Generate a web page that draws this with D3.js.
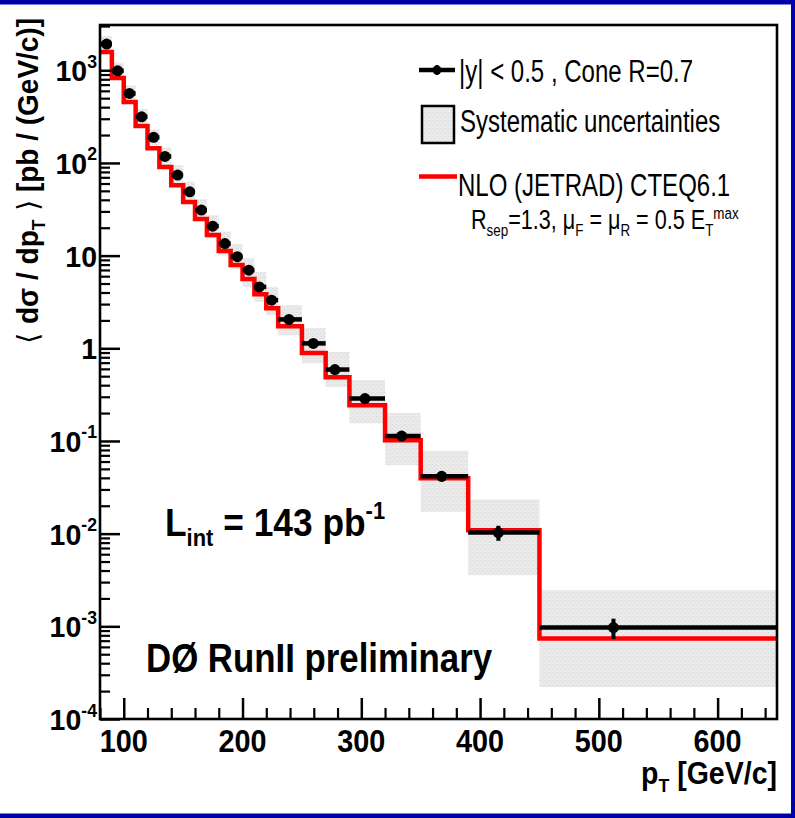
<!DOCTYPE html>
<html>
<head>
<meta charset="utf-8">
<script src="https://cdn.jsdelivr.net/npm/d3@7"></script>
<style>
  body { margin: 0; background: #fff; }
  svg { display: block; }
  text { font-family: "Liberation Sans", Arial, Helvetica, sans-serif; fill: #000; }
</style>
</head>
<body>
<svg id="chart" width="795" height="818"></svg>
<script>
// Inclusive jet cross section, |y| < 0.5, DØ Run II (143 pb^-1)
const binLo  = [80, 90, 100, 110, 120, 130, 140, 150, 160, 170, 180, 190, 200, 210, 220, 230, 250, 270, 290, 320, 350, 390, 450];
const binHi  = [90, 100, 110, 120, 130, 140, 150, 160, 170, 180, 190, 200, 210, 220, 230, 250, 270, 290, 320, 350, 390, 450, 650];
const ptMean = [85.6, 94.9, 104.7, 115.1, 125.2, 134.7, 145.4, 155.6, 165.4, 174.9, 185.2, 195.6, 205.3, 214.1, 224.5, 239.1, 259.6, 277.8, 303.1, 334.0, 367.7, 415.4, 512.3];
// cross section [pb/(GeV/c)]
const xsec   = [1918, 987, 563, 315, 189, 117.6, 73.9, 48.8, 31.0, 20.8, 13.5, 9.75, 6.97, 4.60, 3.31, 2.05, 1.13, 0.590, 0.287, 0.113, 0.0416, 0.01027, 0.000969];
const statErr = [5, 3, 2, 1.2, 0.8, 0.6, 0.45, 0.35, 0.25, 0.2, 0.15, 0.12, 0.1, 0.08, 0.07, 0.05, 0.035, 0.025, 0.015, 0.008, 0.005, 0.0019, 0.00024];
// systematic band edges
const sysLo  = [1571, 809, 461, 258, 155, 94.0, 56.2, 37.1, 23.6, 15.4, 10.0, 7.14, 4.60, 3.17, 2.28, 1.38, 0.690, 0.383, 0.155, 0.0547, 0.01714, 0.00356, 0.000221];
const sysHi  = [2339, 1205, 687, 384, 230, 147, 94.7, 62.5, 40.7, 27.3, 18.2, 13.3, 9.39, 6.68, 4.60, 2.92, 1.65, 0.914, 0.453, 0.201, 0.0785, 0.0233, 0.00245];
// NLO (JETRAD) CTEQ6.1 prediction per bin
const nlo    = [1571, 824, 454, 250, 144.5, 90.2, 57.6, 37.8, 24.8, 16.7, 11.2, 7.91, 5.58, 3.84, 2.71, 1.73, 0.892, 0.488, 0.243, 0.102, 0.0396, 0.01089, 0.000737];

const xTicks = [100, 200, 300, 400, 500, 600];
const xMinor = [80, 120, 140, 160, 180, 220, 240, 260, 280, 320, 340, 360, 380, 420, 440, 460, 480, 520, 540, 560, 580, 620, 640];
const yTickExp = [-4, -3, -2, -1, 0, 1, 2, 3];

const W = 795, H = 818;
const plot = { left: 100, right: 777, top: 25, bottom: 719 };

const svg = d3.select("#chart");

const x = d3.scaleLinear().domain([80, 650]).range([plot.left, plot.right]);
const y = d3.scaleLog().domain([1e-4, 3080]).range([plot.bottom, plot.top]);

// dithered light-grey fill for the systematic band
const defs = svg.append("defs");
const pat = defs.append("pattern").attr("id", "sysfill")
  .attr("width", 4).attr("height", 4).attr("patternUnits", "userSpaceOnUse");
pat.append("rect").attr("width", 4).attr("height", 4).attr("fill", "#e9e9e9");
pat.append("rect").attr("x", 0).attr("y", 0).attr("width", 1).attr("height", 1).attr("fill", "#d8d8d8");
pat.append("rect").attr("x", 2).attr("y", 2).attr("width", 1).attr("height", 1).attr("fill", "#dadada");
pat.append("rect").attr("x", 1).attr("y", 3).attr("width", 1).attr("height", 1).attr("fill", "#f4f4f4");

defs.append("clipPath").attr("id", "plotclip").append("rect")
  .attr("x", plot.left).attr("y", plot.top)
  .attr("width", plot.right - plot.left).attr("height", plot.bottom - plot.top);

// helper: text with optional squeeze along its own direction and sub/superscript parts
function richText(parent, px, py, parts, o) {
  const g = parent.append("g")
    .attr("transform", `translate(${px},${py})` + (o.rotate ? ` rotate(${o.rotate})` : "") + ` scale(${o.sx || 1},${o.sy || 1})`);
  const t = g.append("text")
    .attr("font-size", o.size)
    .attr("font-weight", o.weight || "normal")
    .attr("text-anchor", o.anchor || "start");
  parts.forEach(p => {
    const ts = t.append("tspan").text(p.t);
    if (p.sub) ts.attr("font-size", o.size * 0.62).attr("dy", o.size * 0.25);
    if (p.sup) ts.attr("font-size", o.size * 0.62).attr("dy", -o.size * 0.45);
    if (p.back) ts.attr("dy", p.back);
    if (p.font) ts.attr("font-family", p.font);
    if (p.weight) ts.attr("font-weight", p.weight);
  });
  return t;
}

const data = binLo.map((lo, i) => ({
  lo, hi: binHi[i], pt: ptMean[i], v: xsec[i], e: statErr[i],
  sLo: sysLo[i], sHi: sysHi[i], th: nlo[i]
}));

const body = svg.append("g").attr("clip-path", "url(#plotclip)");

// systematic uncertainty boxes
body.selectAll("rect.sys").data(data).join("rect").attr("class", "sys")
  .attr("x", d => x(d.lo)).attr("width", d => x(d.hi) - x(d.lo))
  .attr("y", d => y(d.sHi)).attr("height", d => y(d.sLo) - y(d.sHi))
  .attr("fill", "url(#sysfill)");

// NLO histogram
const stepPts = data.map(d => [d.lo, d.th]).concat([[binHi[binHi.length - 1], nlo[nlo.length - 1]]]);
body.append("path")
  .attr("d", d3.line().x(d => x(d[0])).y(d => y(d[1])).curve(d3.curveStepAfter)(stepPts))
  .attr("fill", "none").attr("stroke", "#ff0000").attr("stroke-width", 4.5);

// data: bin-width bars, stat error bars, markers
body.selectAll("line.xbar").data(data).join("line").attr("class", "xbar")
  .attr("x1", d => x(d.lo)).attr("x2", d => x(d.hi))
  .attr("y1", d => y(d.v)).attr("y2", d => y(d.v))
  .attr("stroke", "#000").attr("stroke-width", 4.5);
body.selectAll("line.ebar").data(data).join("line").attr("class", "ebar")
  .attr("x1", d => x(d.pt)).attr("x2", d => x(d.pt))
  .attr("y1", d => y(d.v + d.e)).attr("y2", d => y(Math.max(d.v - d.e, 1e-6)))
  .attr("stroke", "#000").attr("stroke-width", 4);
body.selectAll("circle.pt").data(data).join("circle").attr("class", "pt")
  .attr("cx", d => x(d.pt)).attr("cy", d => y(d.v)).attr("r", 5.5)
  .attr("fill", "#000");

// axes with inward ticks
const yMinor = [];
for (let k = -4; k < 4; k++) for (let m = 2; m <= 9; m++) {
  const v = m * Math.pow(10, k);
  if (v <= 3080) yMinor.push(v);
}
svg.append("g").attr("transform", `translate(${plot.left},0)`)
  .call(d3.axisLeft(y).tickValues(yMinor).tickSize(-10).tickFormat(""))
  .call(g => { g.select(".domain").remove(); g.selectAll("line").attr("stroke-width", 2.2); });
svg.append("g").attr("transform", `translate(${plot.left},0)`)
  .call(d3.axisLeft(y).tickValues(yTickExp.map(k => Math.pow(10, k))).tickSize(-20).tickFormat(""))
  .call(g => { g.select(".domain").remove(); g.selectAll("line").attr("stroke-width", 2.5); });
svg.append("g").attr("transform", `translate(0,${plot.bottom})`)
  .call(d3.axisBottom(x).tickValues(xMinor).tickSize(-11).tickFormat(""))
  .call(g => { g.select(".domain").remove(); g.selectAll("line").attr("stroke-width", 2.2); });
svg.append("g").attr("transform", `translate(0,${plot.bottom})`)
  .call(d3.axisBottom(x).tickValues(xTicks).tickSize(-21).tickFormat(""))
  .call(g => { g.select(".domain").remove(); g.selectAll("line").attr("stroke-width", 2.5); });

// frame
svg.append("rect")
  .attr("x", plot.left).attr("y", plot.top)
  .attr("width", plot.right - plot.left).attr("height", plot.bottom - plot.top)
  .attr("fill", "none").attr("stroke", "#000").attr("stroke-width", 2.6);

// tick labels
xTicks.forEach(v => {
  richText(svg, x(v), 752, [{ t: String(v) }], { size: 31, weight: "bold", anchor: "middle", sx: 0.93 });
});
yTickExp.forEach(k => {
  const yy = y(Math.pow(10, k)) + 11;
  let parts;
  if (k === 0) parts = [{ t: "1" }];
  else if (k === 1) parts = [{ t: "10" }];
  else parts = [{ t: "10" }, { t: String(k), sup: true }];
  richText(svg, 97, yy, parts, { size: 30, weight: "bold", anchor: "end", sx: 0.95 });
});

// axis titles
richText(svg, 777, 784, [{ t: "p" }, { t: "T", sub: true }, { t: " [GeV/c]", back: -31 * 0.25 }],
  { size: 31, weight: "bold", anchor: "end", sx: 0.92 });
richText(svg, 38, 18, [
  { t: "\u27E8 ", weight: "normal", font: "DejaVu Sans" },
  { t: "d\u03C3 / dp" }, { t: "T", sub: true },
  { t: " \u27E9", weight: "normal", font: "DejaVu Sans", back: -29 * 0.25 },
  { t: "  [pb / (GeV/c)]" }
], { size: 29, weight: "bold", anchor: "end", rotate: -90, sx: 0.965 });

// legend
const lg = svg.append("g");
lg.append("line").attr("x1", 419).attr("x2", 455).attr("y1", 70).attr("y2", 70)
  .attr("stroke", "#000").attr("stroke-width", 4.5);
lg.append("line").attr("x1", 437).attr("x2", 437).attr("y1", 65).attr("y2", 75)
  .attr("stroke", "#000").attr("stroke-width", 3);
lg.append("circle").attr("cx", 437).attr("cy", 70).attr("r", 4.5).attr("fill", "#000");
lg.append("rect").attr("x", 422).attr("y", 106).attr("width", 32).attr("height", 37)
  .attr("fill", "url(#sysfill)").attr("stroke", "#000").attr("stroke-width", 2.5);
lg.append("line").attr("x1", 419).attr("x2", 457).attr("y1", 176.5).attr("y2", 176.5)
  .attr("stroke", "#ff0000").attr("stroke-width", 4.5);

const lgOpt = { size: 31, sx: 0.775 };
richText(svg, 459, 82, [{ t: "|y| < 0.5 , Cone R=0.7" }], lgOpt);
richText(svg, 460, 132, [{ t: "Systematic uncertainties" }], lgOpt);
richText(svg, 458, 196, [{ t: "NLO (JETRAD) CTEQ6.1" }], lgOpt);
richText(svg, 471, 229, [
  { t: "R" }, { t: "sep", sub: true }, { t: "=1.3, \u03BC", back: -27 * 0.25 }, { t: "F", sub: true },
  { t: " = \u03BC", back: -27 * 0.25 }, { t: "R", sub: true }, { t: " = 0.5 E", back: -27 * 0.25 },
  { t: "T", sub: true }, { t: "max", sup: true, back: -27 * 0.62 }
], { size: 27, sx: 0.8 });

// annotations
richText(svg, 165, 536, [{ t: "L" }, { t: "int", sub: true }, { t: " = 143 pb", back: -38 * 0.25 }, { t: "-1", sup: true }],
  { size: 38, weight: "bold", sx: 0.93 });
richText(svg, 146, 672, [{ t: "D\u00D8 RunII preliminary" }], { size: 40, weight: "bold", sx: 0.87 });

// outer blue border
svg.append("rect").attr("x", 0).attr("y", 0).attr("width", W).attr("height", 4.5).attr("fill", "#0000a8");
svg.append("rect").attr("x", 791).attr("y", 0).attr("width", 4).attr("height", H).attr("fill", "#0000a8");
svg.append("rect").attr("x", 0).attr("y", 813.5).attr("width", W).attr("height", 4.5).attr("fill", "#0000a8");
</script>
</body>
</html>
